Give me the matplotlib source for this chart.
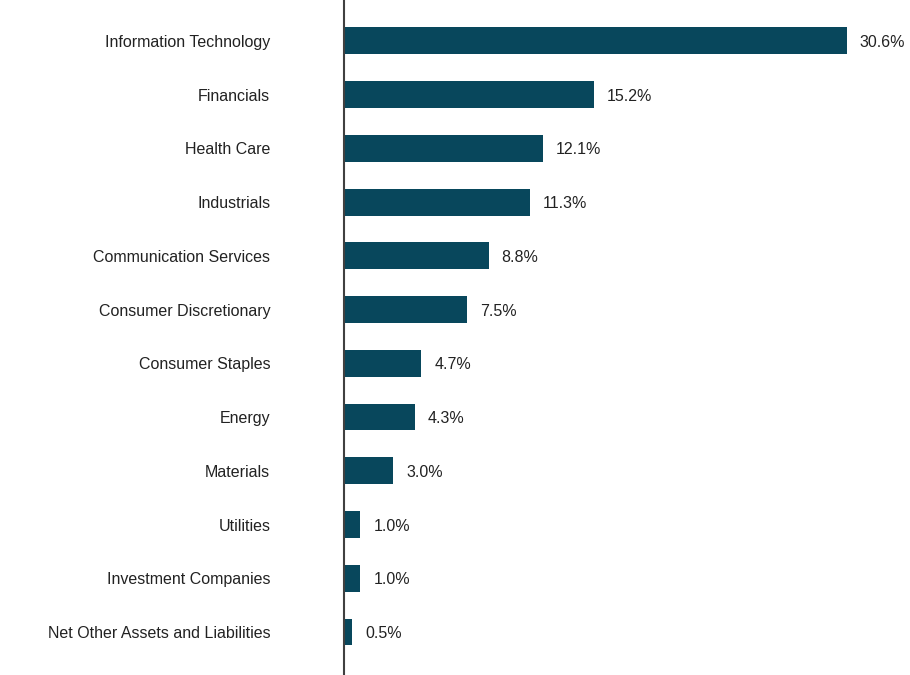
import matplotlib
matplotlib.use("Agg")
import matplotlib.pyplot as plt

plt.rcParams['font.family'] = ['Liberation Sans Narrow', 'Liberation Sans', 'DejaVu Sans']

# --- данни ---
sectors = [
    "Information Technology",
    "Financials",
    "Health Care",
    "Industrials",
    "Communication Services",
    "Consumer Discretionary",
    "Consumer Staples",
    "Energy",
    "Materials",
    "Utilities",
    "Investment Companies",
    "Net Other Assets and Liabilities",
]
weights = [30.6, 15.2, 12.1, 11.3, 8.8, 7.5, 4.7, 4.3, 3.0, 1.0, 1.0, 0.5]
value_labels = ["30.6%", "15.2%", "12.1%", "11.3%", "8.8%", "7.5%",
                "4.7%", "4.3%", "3.0%", "1.0%", "1.0%", "0.5%"]

BAR_COLOR = "#08475C"

fig = plt.figure(figsize=(9.10, 6.75), dpi=100)
ax = fig.add_axes([0.378, 0.0, 0.61, 1.0])

pos = list(range(len(sectors)))
ax.barh(pos, weights, height=0.5, color=BAR_COLOR)

for y, w, lab in zip(pos, weights, value_labels):
    ax.text(w + 0.8, y + 0.03, lab, va="center", ha="left", fontsize=11.5, color="#222222")

ax.set_yticks(pos)
ax.set_yticklabels(sectors, fontsize=11.5, color="#222222")
ax.tick_params(axis="y", length=0, pad=53)
ax.set_xticks([])
ax.set_xlim(0, 33.8)
ax.set_ylim(11.8, -0.76)

for s in ["top", "right", "bottom"]:
    ax.spines[s].set_visible(False)
ax.spines["left"].set_color("#404040")
ax.spines["left"].set_linewidth(1.5)

fig.savefig("out.png", dpi=100)
